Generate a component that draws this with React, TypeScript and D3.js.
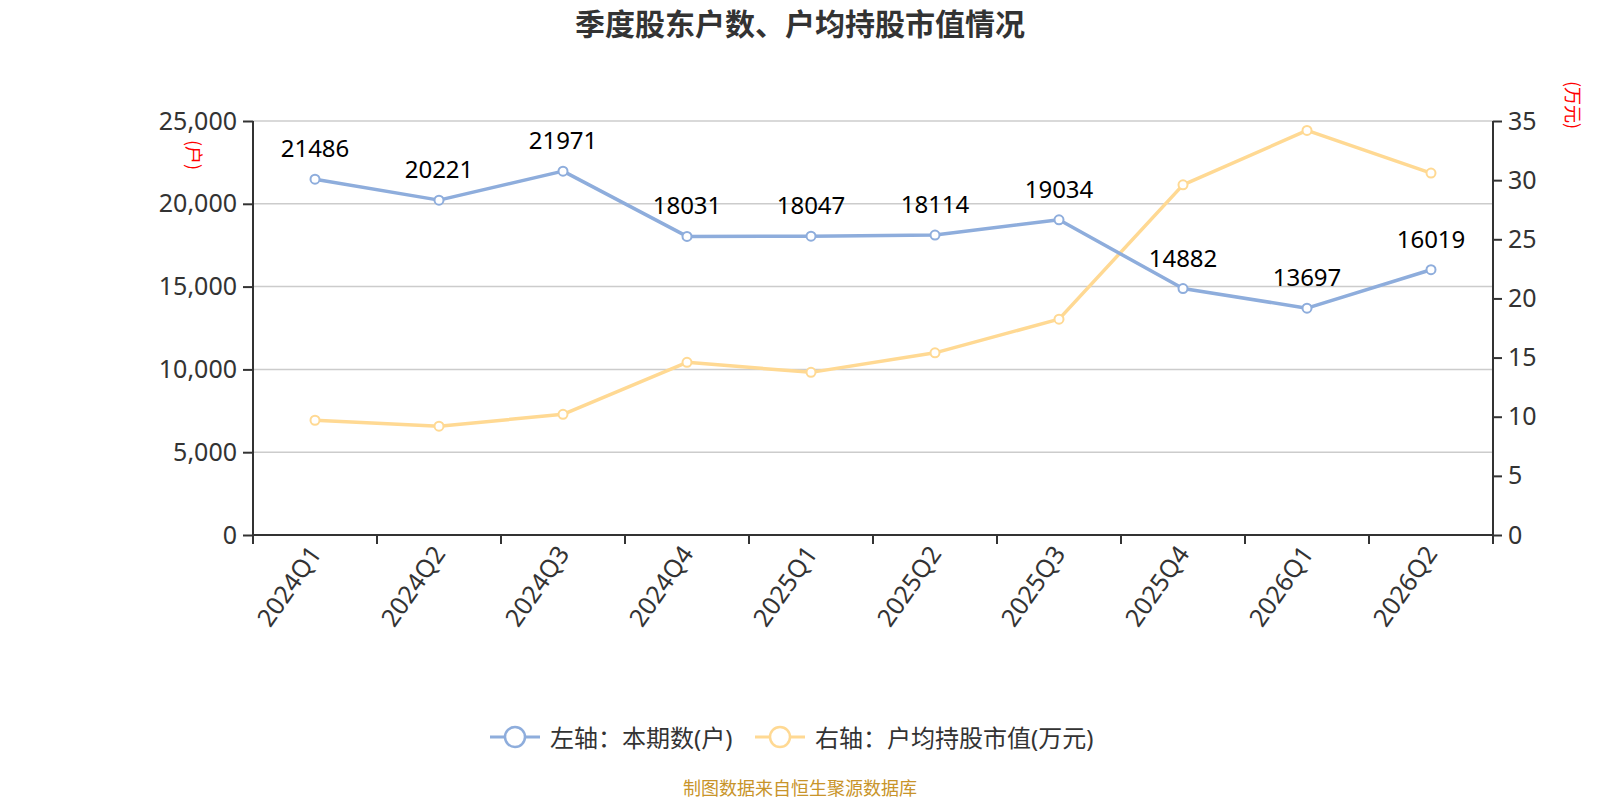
import React, { useEffect, useRef } from 'react';
import * as d3 from 'd3';

const quarters = ['2024Q1', '2024Q2', '2024Q3', '2024Q4', '2025Q1', '2025Q2', '2025Q3', '2025Q4', '2026Q1', '2026Q2'];
const holders = [21486, 20221, 21971, 18031, 18047, 18114, 19034, 14882, 13697, 16019];
const avgValue = [9.7, 9.2, 10.2, 14.6, 13.75, 15.4, 18.25, 29.6, 34.2, 30.6];
const leftTicks = [0, 5000, 10000, 15000, 20000, 25000];
const rightTicks = [0, 5, 10, 15, 20, 25, 30, 35];
const seriesNames = ['左轴：本期数(户)', '右轴：户均持股市值(万元)'];

const FONT = '"Noto Sans", "Noto Sans CJK SC", sans-serif';
const CJK = '"Noto Sans CJK SC", sans-serif';
const BLUE = '#8eaddc';
const YELLOW = '#ffd993';

const App: React.FC = () => {
  const ref = useRef<SVGSVGElement | null>(null);

  useEffect(() => {
    document.body.style.margin = '0';
    const W = 1600;
    const H = 800;
    const margin = { top: 121, right: 107, bottom: 265, left: 253 };
    const width = W - margin.left - margin.right;
    const height = H - margin.top - margin.bottom;

    const root = d3.select(ref.current);
    root.selectAll('*').remove();
    root.attr('width', W).attr('height', H).style('font-family', FONT);

    // Title
    root.append('text')
      .attr('x', W / 2)
      .attr('y', 35)
      .attr('text-anchor', 'middle')
      .attr('font-size', 30)
      .attr('font-weight', 'bold')
      .attr('font-family', CJK)
      .attr('fill', '#333')
      .text('季度股东户数、户均持股市值情况');

    const svg = root.append('g').attr('transform', `translate(${margin.left},${margin.top})`);

    const x = d3.scaleBand().domain(quarters).range([0, width]);
    const yL = d3.scaleLinear().domain([0, 25000]).range([height, 0]);
    const yR = d3.scaleLinear().domain([0, 35]).range([height, 0]);

    // Grid
    svg.append('g')
      .selectAll('line')
      .data(leftTicks.slice(1))
      .enter()
      .append('line')
      .attr('x1', 0)
      .attr('x2', width)
      .attr('y1', d => yL(d))
      .attr('y2', d => yL(d))
      .attr('stroke', '#cccccc')
      .attr('stroke-width', 1.5);

    // Left axis
    const gL = svg.append('g')
      .call(d3.axisLeft(yL).tickValues(leftTicks).tickSize(10).tickPadding(6).tickFormat(d3.format(',')));
    gL.select('.domain').remove();
    gL.selectAll('line').attr('stroke', '#333').attr('stroke-width', 2);
    gL.selectAll('text').attr('fill', '#333').attr('font-size', 25).attr('font-family', FONT);
    svg.append('line')
      .attr('x1', 0).attr('x2', 0).attr('y1', 0).attr('y2', height)
      .attr('stroke', '#333').attr('stroke-width', 2);

    // Right axis
    const gR = svg.append('g')
      .attr('transform', `translate(${width},0)`)
      .call(d3.axisRight(yR).tickValues(rightTicks).tickSize(9).tickPadding(6));
    gR.select('.domain').remove();
    gR.selectAll('line').attr('stroke', '#333').attr('stroke-width', 2);
    gR.selectAll('text').attr('fill', '#333').attr('font-size', 25).attr('font-family', FONT);
    svg.append('line')
      .attr('x1', width).attr('x2', width).attr('y1', 0).attr('y2', height)
      .attr('stroke', '#333').attr('stroke-width', 2);

    // X axis
    svg.append('line')
      .attr('x1', 0).attr('x2', width).attr('y1', height).attr('y2', height)
      .attr('stroke', '#333').attr('stroke-width', 2);
    svg.append('g')
      .selectAll('line')
      .data(d3.range(quarters.length + 1))
      .enter()
      .append('line')
      .attr('x1', i => i * x.step())
      .attr('x2', i => i * x.step())
      .attr('y1', height)
      .attr('y2', height + 9)
      .attr('stroke', '#333')
      .attr('stroke-width', 2);
    svg.append('g')
      .selectAll('text')
      .data(quarters)
      .enter()
      .append('text')
      .attr('transform', d => `translate(${x(d)! + x.bandwidth() / 2 + 2},${height + 15}) rotate(-55)`)
      .attr('text-anchor', 'end')
      .attr('dominant-baseline', 'middle')
      .attr('font-size', 25)
      .attr('fill', '#333')
      .text(d => d);

    // Axis names
    root.append('text')
      .attr('transform', 'translate(192,155) rotate(90)')
      .attr('text-anchor', 'middle')
      .attr('dominant-baseline', 'middle')
      .attr('font-size', 18)
      .attr('font-family', CJK)
      .attr('fill', '#ff0000')
      .text('(户)');
    root.append('text')
      .attr('transform', 'translate(1571,105) rotate(90)')
      .attr('text-anchor', 'middle')
      .attr('dominant-baseline', 'middle')
      .attr('font-size', 18)
      .attr('font-family', CJK)
      .attr('fill', '#ff0000')
      .text('(万元)');

    const cx = (i: number) => x(quarters[i])! + x.bandwidth() / 2;

    // Yellow line
    svg.append('path')
      .datum(avgValue)
      .attr('fill', 'none')
      .attr('stroke', YELLOW)
      .attr('stroke-width', 3.5)
      .attr('stroke-linejoin', 'round')
      .attr('d', d3.line<number>().x((d, i) => cx(i)).y(d => yR(d)));
    svg.append('g')
      .selectAll('circle')
      .data(avgValue)
      .enter()
      .append('circle')
      .attr('cx', (d, i) => cx(i))
      .attr('cy', d => yR(d))
      .attr('r', 4.5)
      .attr('fill', '#fff')
      .attr('stroke', YELLOW)
      .attr('stroke-width', 2);

    // Blue line
    svg.append('path')
      .datum(holders)
      .attr('fill', 'none')
      .attr('stroke', BLUE)
      .attr('stroke-width', 3.5)
      .attr('stroke-linejoin', 'round')
      .attr('d', d3.line<number>().x((d, i) => cx(i)).y(d => yL(d)));
    svg.append('g')
      .selectAll('circle')
      .data(holders)
      .enter()
      .append('circle')
      .attr('cx', (d, i) => cx(i))
      .attr('cy', d => yL(d))
      .attr('r', 4.5)
      .attr('fill', '#fff')
      .attr('stroke', BLUE)
      .attr('stroke-width', 2);

    // Value labels
    svg.append('g')
      .selectAll('text')
      .data(holders)
      .enter()
      .append('text')
      .attr('x', (d, i) => cx(i))
      .attr('y', d => yL(d) - 22)
      .attr('text-anchor', 'middle')
      .attr('font-size', 24)
      .attr('fill', '#000')
      .text(d => d);

    // Legend
    const legend = [
      { name: seriesNames[0], color: BLUE, x: 490 },
      { name: seriesNames[1], color: YELLOW, x: 755 },
    ];
    const lg = root.append('g').attr('transform', 'translate(0,737)');
    legend.forEach(l => {
      lg.append('line')
        .attr('x1', l.x).attr('x2', l.x + 50).attr('y1', 0).attr('y2', 0)
        .attr('stroke', l.color).attr('stroke-width', 3);
      lg.append('circle')
        .attr('cx', l.x + 25).attr('cy', 0).attr('r', 10)
        .attr('fill', '#fff').attr('stroke', l.color).attr('stroke-width', 2.5);
      lg.append('text')
        .attr('x', l.x + 60)
        .attr('y', 0)
        .attr('dominant-baseline', 'central')
        .attr('font-size', 24)
        .attr('fill', '#333')
        .text(l.name);
    });

    // Source
    root.append('text')
      .attr('x', W / 2)
      .attr('y', 795)
      .attr('text-anchor', 'middle')
      .attr('font-size', 18)
      .attr('font-family', CJK)
      .attr('fill', '#c8942a')
      .text('制图数据来自恒生聚源数据库');
  }, []);

  return <svg ref={ref} style={{ display: 'block', background: '#fff' }} />;
};

export default App;
